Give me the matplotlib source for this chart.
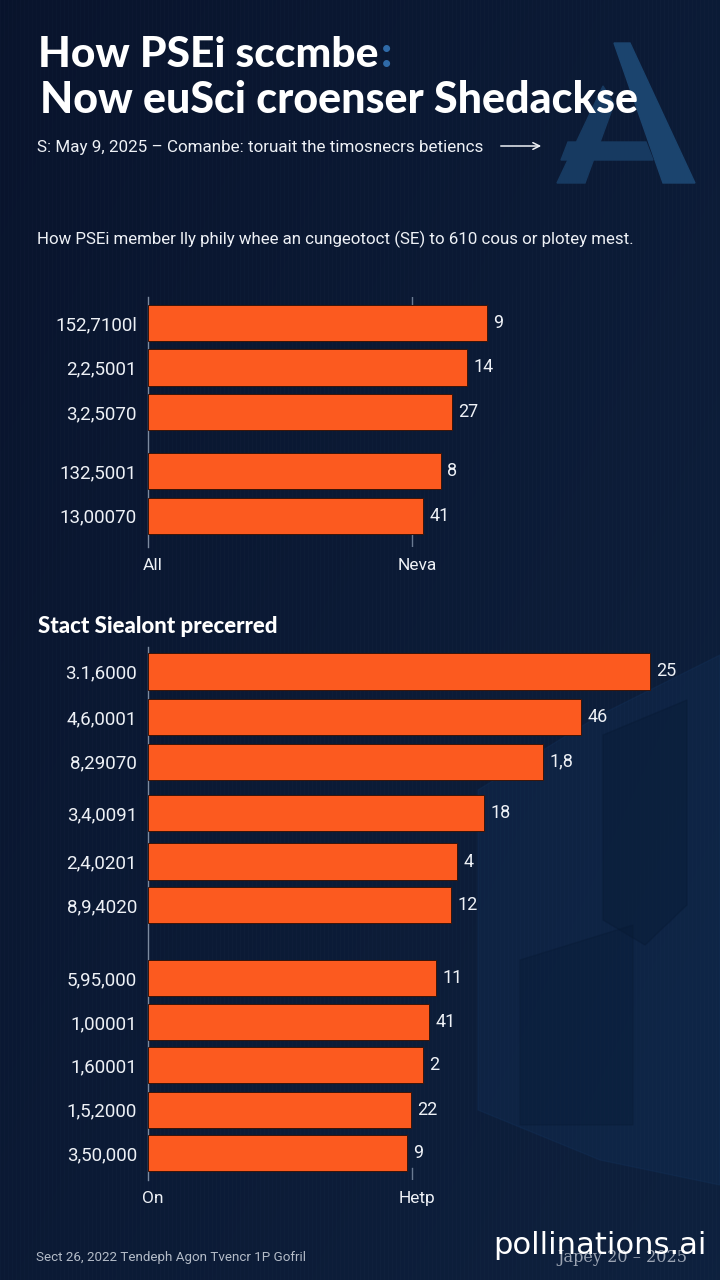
import numpy as np
import matplotlib
matplotlib.use('Agg')
import matplotlib.pyplot as plt
from matplotlib.patches import Polygon, FancyArrowPatch
from matplotlib.transforms import ScaledTranslation

W, H = 720, 1280

# upper panel
top_labels = ['152,7100l', '2,2,5001', '3,2,5070', '132,5001', '13,00070']
top_values = [128.4, 120.8, 115.2, 111.0, 104.2]
top_notes = ['9', '14', '27', '8', '41']
top_ticks = ['All', 'Neva']

# lower panel
bottom_labels = ['3.1,6000', '4,6,0001', '8,29070', '3,4,0091', '2,4,0201', '8,9,4020',
                 '5,95,000', '1,00001', '1,60001', '1,5,2000', '3,50,000']
bottom_values = [190.2, 164.0, 149.6, 127.3, 117.0, 114.8,
                 109.1, 106.4, 104.2, 99.6, 98.1]
bottom_notes = ['25', '46', '1,8', '18', '4', '12', '11', '41', '2', '22', '9']
bottom_ticks = ['On', 'Hetp']

title_1 = 'How PSEi sccmbe'
title_2 = 'Now euSci croenser Shedackse'
subtitle = 'S: May 9, 2025 – Comanbe: toruait the timosnecrs betiencs'
intro = 'How PSEi member lly phily whee an cungeotoct (SE) to 610 cous or plotey mest.'
section = 'Stact Siealont precerred'
footer = 'Sect 26, 2022 Tendeph Agon Tvencr 1P Gofril'
stamp = 'Japey 20 – 2025'
mark = 'pollinations.ai'

BG = '#0a1832'
ORANGE = '#fc5a1f'
TEXT = '#eef1f6'
GREY = '#b4bcc8'
PX = 44.5  # pixels per bar slot

fig = plt.figure(figsize=(W / 100, H / 100), dpi=100)
fig.patch.set_facecolor(BG)

# background with faint vertical texture and logo shapes
bg = fig.add_axes([0, 0, 1, 1])
bg.set_xlim(0, W)
bg.set_ylim(H, 0)
bg.axis('off')
yy, xx = np.mgrid[0:H, 0:W]
t = 0.55 * xx / W + 0.45 * yy / H
c0 = np.array([0.035, 0.078, 0.175])
c1 = np.array([0.055, 0.130, 0.245])
img = c0 + (c1 - c0) * t[..., None]
img += 0.010 * ((xx % 4) == 0)[..., None]
bg.imshow(np.clip(img, 0, 1), extent=[0, W, H, 0], interpolation='nearest', zorder=0)

logo = '#173a61'
bg.add_patch(Polygon([(614, 43), (630, 43), (695, 183), (663, 183)], color='#1b446e', zorder=1))
bg.add_patch(Polygon([(603, 86), (614, 104), (585, 183), (557, 183)], color=logo, zorder=1))
bg.add_patch(Polygon([(568, 142), (646, 142), (653, 160), (561, 160)], color=logo, zorder=1))

bg.add_patch(Polygon([(478, 790), (600, 715), (720, 655), (720, 1185), (600, 1160), (478, 1110)],
                     color='#143560', alpha=0.28, zorder=1))
bg.add_patch(Polygon([(603, 735), (687, 700), (687, 905), (645, 945), (603, 920)],
                     color='#081a34', alpha=0.4, zorder=1))
bg.add_patch(Polygon([(520, 960), (633, 925), (633, 1125), (520, 1125)],
                     color='#081a34', alpha=0.35, zorder=1))


def fig_text(x, y, s, width=None, **kw):
    txt = fig.text(x / W, 1 - y / H, s, **kw)
    if width:
        r = fig.canvas.get_renderer()
        bb = txt.get_window_extent(r)
        txt.set_fontsize(txt.get_fontsize() * width / bb.width)
    return txt


fig_text(38, 67, title_1, width=340, color='white', fontsize=30,
         family='Lato', weight='black', va='baseline')
fig_text(381, 67, ':', color='#2f6aa8', fontsize=31, family='Lato', weight='black', va='baseline')
fig_text(40, 113, title_2, width=598, color='white', fontsize=30,
         family='Lato', weight='black', va='baseline')
fig_text(37, 152, subtitle, width=445, color=TEXT, fontsize=12,
         family='Roboto', va='baseline')
fig.add_artist(FancyArrowPatch((498 / W, 1 - 146 / H), (544 / W, 1 - 146 / H),
                               transform=fig.transFigure, arrowstyle='->',
                               mutation_scale=12, color=TEXT, lw=1.1))
fig_text(37, 244, intro, width=596, color=TEXT, fontsize=12,
         family='Roboto', va='baseline')
fig_text(38, 633, section, width=240, color='white', fontsize=16,
         family='Lato', weight='black', va='baseline')
fig_text(36, 1261, footer, width=271, color=GREY, fontsize=10,
         family='Roboto', va='baseline')
fig_text(557, 1262, stamp, width=130, color='#9aa3b2', fontsize=12,
         family='DejaVu Serif', va='baseline')
fig_text(493, 1254, mark, width=214, color='white', fontsize=20,
         family='DejaVu Sans', va='baseline')


def panel(y0, y1, first, pos, labels, values, notes, ticks, top_mark):
    x0, x1 = 148, 700
    ax = fig.add_axes([x0 / W, 1 - y1 / H, (x1 - x0) / W, (y1 - y0) / H])
    ax.set_facecolor('none')
    ax.set_xlim(0, (x1 - x0) / 2.64)
    ax.set_ylim((y1 - first) / PX, -(first - y0) / PX)
    ax.barh(pos, values, height=0.81, color=ORANGE, edgecolor='#3a1408',
            linewidth=0.7, zorder=3)
    for p, v, n in zip(pos, values, notes):
        ax.annotate(n, (v, p), xytext=(4.5, 0), textcoords='offset points',
                    va='center', ha='left', color=TEXT, fontsize=13, family='Roboto')
    # short marks at the right reference tick
    ax.axvline(100, ymin=0, ymax=12 / (y1 - y0), color='#6a7a92', lw=1.0, zorder=1)
    if top_mark:
        ax.axvline(100, ymin=1 - top_mark / (y1 - y0), ymax=1, color='#6a7a92', lw=1.0, zorder=1)
    for side in ['top', 'right', 'bottom']:
        ax.spines[side].set_visible(False)
    ax.spines['left'].set_color('#7d8ba0')
    ax.spines['left'].set_linewidth(1.0)
    ax.set_yticks(pos, labels)
    ax.set_xticks([0, 100], ticks)
    ax.tick_params(axis='y', length=0, pad=8, labelcolor=TEXT, labelsize=13.5)
    ax.tick_params(axis='x', length=0, pad=8, labelcolor=TEXT, labelsize=12.5)
    for lab in ax.get_yticklabels():
        lab.set_family('Roboto')
    shift = ScaledTranslation(5 / 100, 0, fig.dpi_scale_trans)
    for lab in ax.get_xticklabels():
        lab.set_family('Roboto')
        lab.set_transform(lab.get_transform() + shift)
    return ax


panel(297, 547, 323, [0, 1, 2, 3.33, 4.33],
      top_labels, top_values, top_notes, top_ticks, 8)
panel(647, 1180, 671.5, [0, 1.02, 2.03, 3.19, 4.27, 5.25, 6.89, 7.88, 8.85, 9.85, 10.82],
      bottom_labels, bottom_values, bottom_notes, bottom_ticks, 0)

fig.savefig('out.png', dpi=100, facecolor=BG)
